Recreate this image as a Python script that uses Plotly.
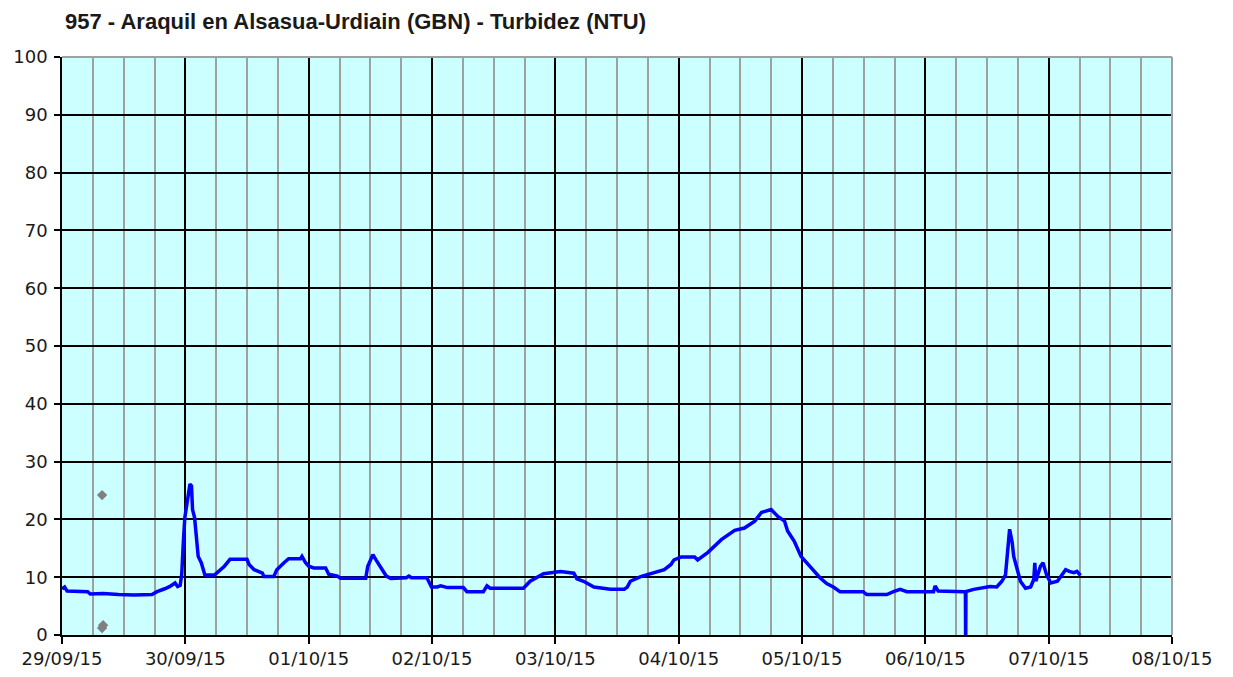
import pandas as pd
import plotly.graph_objects as go

# Hours since 29/09/15 00:00 and turbidity values (NTU)
hours = [0, 0.5, 1, 5, 5.5, 8, 11, 14, 17.5, 18.5, 20, 21, 22, 22.5, 23, 23.3, 23.6, 23.9,
         24.5, 24.9, 25.2, 25.4, 25.8, 26.1, 26.5, 27.1, 27.8, 29.7, 31.6, 32.7, 36.0, 36.4,
         37.4, 39.0, 39.3, 41.2, 41.8, 43.2, 44.1, 46.4, 46.7, 47.4, 48.0, 49.0, 51.3, 51.9,
         53.6, 54.2, 59.1, 59.5, 60.5, 61.1, 62.1, 63.1, 64.0, 67.0, 67.5, 68.0, 71.0, 71.2,
         71.9, 73.0, 73.7, 75, 78.1, 78.8, 82.0, 82.7, 83.3, 89.8, 91.1, 93.7, 95, 97, 99.6,
         100.2, 101.5, 103.5, 106.7, 109.4, 110.0, 110.6, 112.6, 114.5, 117.2, 118.5, 119.1,
         120.5, 123.1, 123.7, 125.7, 128.3, 130.9, 132.8, 134.8, 136.1, 138.0, 139.3, 140.6,
         141.2, 142.5, 143.8, 144.9, 146.2, 147.5, 148.8, 150.1, 151.4, 155.9, 156.6, 160.5,
         161.8, 163.1, 164.4, 169.6, 169.9, 170.5, 175.5, 175.8, 175.85, 175.9, 177.4, 178.7,
         180.6, 181.9, 182.9, 183.6, 184.0, 184.4, 184.9, 185.2, 185.9, 186.5, 187.5, 188.5,
         189.1, 189.3, 189.5, 190.4, 190.9, 191.6, 192.4, 193.7, 195.3, 196.0, 196.9, 197.5,
         198.2]
turbidity = [8.0, 8.3, 7.6, 7.5, 7.1, 7.2, 7.0, 6.9, 7.0, 7.5, 8.0, 8.4, 9.0, 8.4, 8.6, 10.5,
             15.9, 20.3, 23.8, 26.1, 25.8, 21.7, 20.3, 16.5, 13.6, 12.5, 10.4, 10.4, 11.9, 13.1,
             13.1, 12.2, 11.3, 10.7, 10.1, 10.1, 11.3, 12.5, 13.2, 13.2, 13.6, 12.5, 11.9, 11.6,
             11.6, 10.5, 10.2, 9.8, 9.8, 11.9, 13.9, 13.0, 11.6, 10.2, 9.8, 9.9, 10.2, 9.9, 9.9,
             9.5, 8.3, 8.3, 8.5, 8.2, 8.2, 7.5, 7.5, 8.5, 8.1, 8.1, 9.3, 10.6, 10.8, 11.0, 10.7,
             9.7, 9.3, 8.3, 7.9, 7.9, 8.3, 9.3, 10.1, 10.6, 11.3, 12.2, 13.0, 13.5, 13.5, 13.0,
             14.3, 16.5, 18.1, 18.5, 19.7, 21.2, 21.7, 20.5, 19.7, 18.0, 16.2, 13.6, 12.5, 11.3,
             9.9, 8.9, 8.3, 7.5, 7.5, 7.0, 7.0, 7.5, 7.9, 7.5, 7.5, 8.5, 7.6, 7.5, 7.5, -3, 7.5,
             7.9, 8.1, 8.4, 8.3, 9.3, 10.4, 14.8, 18.3, 16.0, 13.6, 11.3, 9.3, 8.1, 8.3, 9.6,
             12.5, 9.3, 11.9, 12.5, 10.4, 9.0, 9.3, 11.3, 11.0, 10.8, 11.0, 10.3]

# Isolated grey points
extra_hours = [7.8, 7.8, 8.0]
extra_values = [24.2, 1.2, 1.7]

start = pd.Timestamp("2015-09-29")
end = pd.Timestamp("2015-10-08")
x_main = [start + pd.Timedelta(hours=h) for h in hours]
x_extra = [start + pd.Timedelta(hours=h) for h in extra_hours]

title_text = "957 - Araquil en Alsasua-Urdiain (GBN) - Turbidez (NTU)"

# page body adds an 8px offset; compensate in figure size / margins
W, H = 1225, 669

fig = go.Figure()
fig.add_trace(go.Scatter(x=x_main, y=turbidity, mode="lines",
                         line=dict(color="#0000ff", width=3.5), showlegend=False))
fig.add_trace(go.Scatter(x=x_extra, y=extra_values, mode="markers",
                         marker=dict(symbol="diamond", color="#808080", size=8),
                         showlegend=False))

tickfont = dict(family="DejaVu Sans, Verdana, sans-serif", size=18, color="#1a1a1a")

fig.update_layout(
    width=W, height=H,
    margin=dict(l=54, r=61, t=49, b=42, autoexpand=False),
    paper_bgcolor="white",
    plot_bgcolor="#ccffff",
    title=dict(text=title_text, x=57 / W, xanchor="left", y=1 - 13 / H, yanchor="middle",
               font=dict(family="Liberation Sans, Arial, sans-serif", size=22, color="#1a1a1a",
                         weight="bold")),
    xaxis=dict(type="date", range=[start, end], dtick=86400000, tick0=start,
               tickformat="%d/%m/%y", showgrid=True, gridcolor="#000000", gridwidth=1.5,
               minor=dict(dtick=6 * 3600000, showgrid=True, gridcolor="#a0a0a0", gridwidth=1.5),
               ticks="outside", ticklen=7, tickcolor="#000000", tickwidth=1.5,
               showline=True, linecolor="#000000", linewidth=1.5, mirror=False,
               tickfont=tickfont, zeroline=False, automargin=False),
    yaxis=dict(range=[0, 100], dtick=10, showgrid=True, gridcolor="#000000", gridwidth=1.5,
               ticks="outside", ticklen=6, tickcolor="#000000", tickwidth=1.5,
               showline=True, linecolor="#000000", linewidth=1.5,
               tickfont=tickfont, zeroline=False, ticklabelstandoff=3, automargin=False),
    shapes=[
        dict(type="line", xref="paper", yref="paper", x0=0, x1=1, y0=1, y1=1,
             line=dict(color="#a0a0a0", width=2)),
        dict(type="line", xref="paper", yref="paper", x0=1, x1=1, y0=0, y1=1,
             line=dict(color="#a0a0a0", width=2)),
    ],
)

fig.write_html("out.html")
